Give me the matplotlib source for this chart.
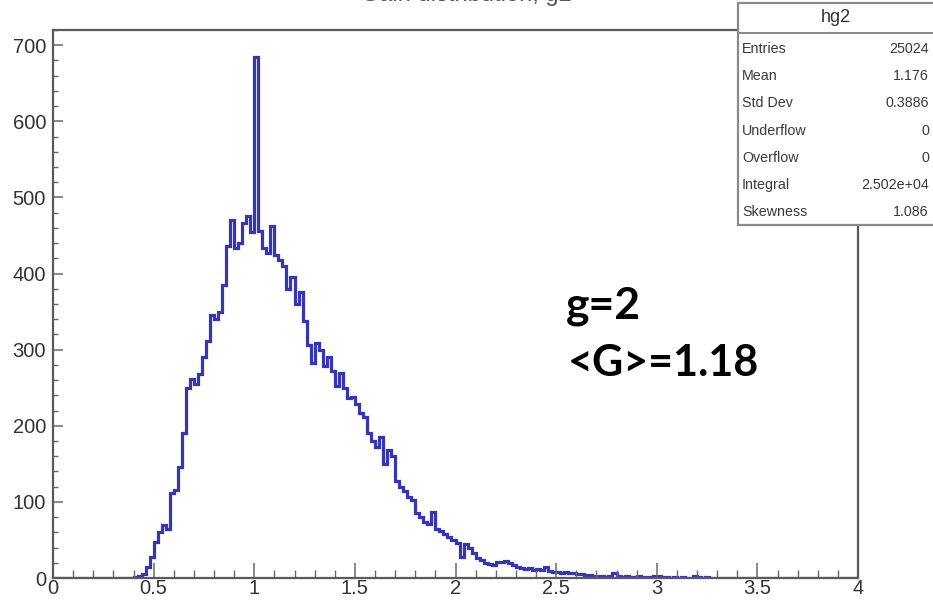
import numpy as np
import matplotlib.pyplot as plt
from matplotlib.patches import Rectangle
from matplotlib.ticker import MultipleLocator

# histogram hg2: 200 bins of width 0.02 from 0 to 4
x_min = 0.0
x_max = 4.0
n_bins = 200
first_bin = 0.40  # left edge of the first listed count, everything before is empty

counts = [1, 3, 5, 14, 28, 47, 61, 70, 65, 112,
          116, 146, 190, 250, 262, 255, 268, 290, 312, 345,
          340, 350, 385, 436, 470, 434, 440, 466, 476, 455,
          685, 456, 433, 427, 462, 425, 418, 410, 380, 396,
          360, 376, 338, 306, 283, 309, 300, 278, 290, 272,
          252, 270, 250, 236, 238, 228, 217, 212, 190, 180,
          172, 185, 150, 168, 160, 128, 120, 114, 106, 102,
          85, 80, 74, 71, 87, 64, 62, 58, 54, 50,
          46, 28, 45, 40, 33, 26, 24, 20, 19, 17,
          21, 21, 22, 20, 17, 14, 13, 12, 13, 11,
          12, 10, 15, 9, 8, 8, 7, 8, 6, 7,
          5, 5, 4, 4, 3, 3, 2, 1, 2, 7,
          2, 1, 2, 1, 1, 2, 1, 1, 1, 2,
          3, 1, 1, 0, 1, 0, 1, 0, 0, 3,
          1, 0, 1]

stat_names = ["Entries", "Mean", "Std Dev", "Underflow", "Overflow", "Integral", "Skewness"]
stat_values = ["25024", "1.176", "0.3886", "0", "0", "2.502e+04", "1.086"]

W, H = 933, 601
fig = plt.figure(figsize=(W / 100, H / 100), dpi=100)
fig.patch.set_facecolor("white")

def fx(px):
    return px / W

def fy(py):
    return 1 - py / H

# axes frame in pixels: left 53, right 858, top 30, bottom 578
ax = fig.add_axes([fx(53), fy(578), fx(858) - fx(53), fy(30) - fy(578)])

edges = np.linspace(x_min, x_max, n_bins + 1)
vals = np.zeros(n_bins)
start = int(round((first_bin - x_min) / (edges[1] - edges[0])))
vals[start:start + len(counts)] = counts

ax.stairs(vals, edges, color="#3535b5", lw=2.3)

ax.set_xlim(x_min, x_max)
ax.set_ylim(0, 720)

ax.xaxis.set_major_locator(MultipleLocator(0.5))
ax.xaxis.set_minor_locator(MultipleLocator(0.1))
ax.yaxis.set_major_locator(MultipleLocator(100))
ax.yaxis.set_minor_locator(MultipleLocator(20))
ax.xaxis.set_major_formatter(plt.FuncFormatter(lambda v, p: f"{v:g}"))

for s in ax.spines.values():
    s.set_color("#5a5a5a")
    s.set_linewidth(1.6)

tick_font = "Liberation Sans"
ax.tick_params(axis="x", which="major", direction="in", length=11, width=1.1,
               color="#6a6a6a", labelsize=14.5, labelcolor="#333333", pad=1)
ax.tick_params(axis="x", which="minor", direction="in", length=5.5, width=1.0, color="#6a6a6a")
ax.tick_params(axis="y", which="major", direction="in", length=7, width=1.1,
               color="#6a6a6a", labelsize=14.5, labelcolor="#333333", pad=5)
ax.tick_params(axis="y", which="minor", direction="in", length=3.5, width=1.0, color="#6a6a6a")
for lab in ax.get_xticklabels() + ax.get_yticklabels():
    lab.set_fontfamily(tick_font)

# title, mostly outside the top of the picture
fig.text(0.5, fy(1.5), "Gain distribution, g2", ha="center", va="baseline",
         fontsize=17, color="#555555", family=tick_font)

# stats box
box_l, box_t, box_b = 738, 3, 225
fig.patches.append(Rectangle((fx(box_l), fy(box_b)), fx(W + 10) - fx(box_l), fy(box_t) - fy(box_b),
                             transform=fig.transFigure, facecolor="white",
                             edgecolor="#8a8a8a", lw=1.6, zorder=5))
fig.add_artist(plt.Line2D([fx(box_l), 1], [fy(33), fy(33)], transform=fig.transFigure,
                          color="#8a8a8a", lw=1.4, zorder=6))
fig.text(fx(836), fy(18), "hg2", ha="center", va="center", fontsize=13,
         color="#333333", family=tick_font, zorder=7)
for i, (name, val) in enumerate(zip(stat_names, stat_values)):
    yy = fy(49 + i * 27.2)
    fig.text(fx(742), yy, name, ha="left", va="center", fontsize=10.3,
             color="#3a3a3a", family=tick_font, zorder=7)
    fig.text(fx(929), yy, val, ha="right", va="center", fontsize=10.3,
             color="#3a3a3a", family=tick_font, zorder=7)

# annotation
fig.text(fx(566), fy(318), "g=2", ha="left", va="baseline", fontsize=32,
         fontweight="bold", family="Lato", color="black")
fig.text(fx(568), fy(376), "<G>=1.18", ha="left", va="baseline", fontsize=31,
         fontweight="bold", family="Lato", color="black")

fig.savefig("out.png", dpi=100)
